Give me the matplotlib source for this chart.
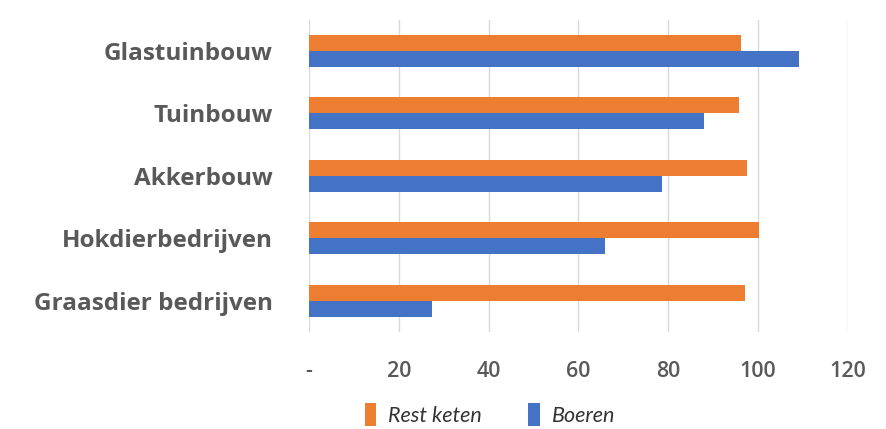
import matplotlib
matplotlib.use("Agg")
import matplotlib.pyplot as plt
from matplotlib.patches import Patch

categories = ["Glastuinbouw", "Tuinbouw", "Akkerbouw", "Hokdierbedrijven", "Graasdier bedrijven"]
rest_keten = [96.2, 95.8, 97.5, 100.3, 97.1]
boeren = [109.1, 88.0, 78.5, 65.8, 27.4]
xticks = [0, 20, 40, 60, 80, 100, 120]
xticklabels = ["-", "20", "40", "60", "80", "100", "120"]
series_names = ["Rest keten", "Boeren"]

orange = "#ED7D31"
blue = "#4472C4"

fig = plt.figure(figsize=(8.86, 4.29), dpi=100)
ax = fig.add_axes([0.3488, 0.226, 0.957 - 0.3488, 0.9545 - 0.226])

n = len(categories)
ypos = list(range(n))
h = 0.256
ax.barh([y - h / 2 for y in ypos], rest_keten, height=h, color=orange, zorder=3)
ax.barh([y + h / 2 for y in ypos], boeren, height=h, color=blue, zorder=3)

ax.set_ylim(n - 0.5, -0.5)
ax.set_xlim(0, 120)
ax.set_yticks(ypos)
ax.set_yticklabels(categories, fontfamily="Open Sans", fontweight="bold",
                   fontsize=17.5, color="#595959")
ax.set_xticks(xticks)
ax.set_xticklabels(xticklabels, fontfamily="Open Sans", fontweight="semibold",
                   fontsize=15.5, color="#595959")
ax.tick_params(axis="y", length=0, pad=26)
ax.tick_params(axis="x", length=0, pad=21)
for s in ax.spines.values():
    s.set_visible(False)
ax.grid(axis="x", color="#D9D9D9", linewidth=1.0, zorder=0)
ax.set_axisbelow(True)

handles = [Patch(facecolor=orange), Patch(facecolor=blue)]
fig.legend(handles, series_names, loc="center", bbox_to_anchor=(0.553, 0.034),
           ncol=2, frameon=False, prop={"family": "Lato", "style": "italic", "size": 15.5},
           handlelength=0.55, handleheight=1.3, handletextpad=0.55, columnspacing=2.15,
           labelcolor="#333333", borderpad=0.1)

fig.savefig("out.png", dpi=100)
